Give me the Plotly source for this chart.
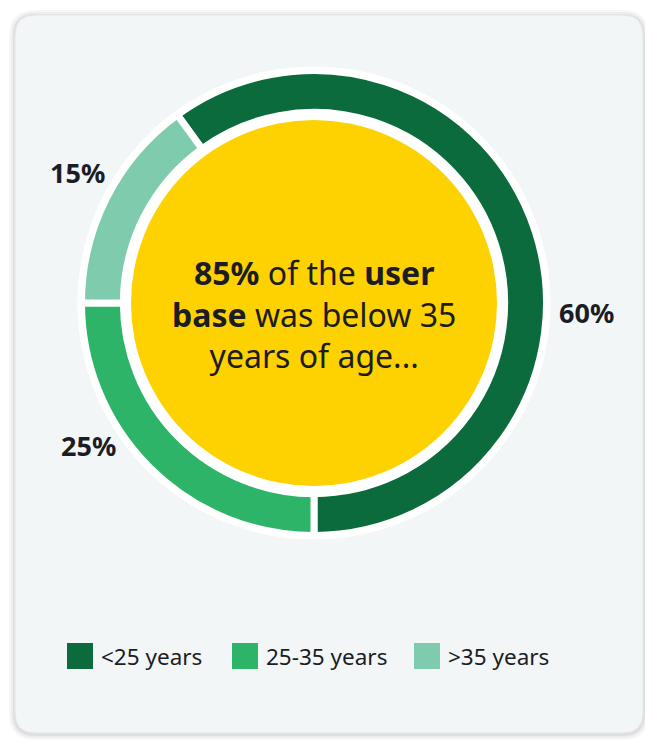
import plotly.graph_objects as go

# data
age_groups = ['<25 years', '25-35 years', '>35 years']
share = [60, 25, 15]
colors = ['#0b6b3c', '#2db469', '#7fcbad']
center_text = ('<b>85%</b> of the <b>user</b><br>'
               '<b>base</b> was below 35<br>'
               'years of age...')

W, H = 653, 742
PAD = 8  # default body margin of the page
cx, cy, R = 314, 303, 232.5
FONT = 'Noto Sans'
INK = '#1c1c24'
fw, fh = W - PAD, H - PAD

fig = go.Figure()

fig.add_trace(go.Pie(
    labels=age_groups, values=share, sort=False, direction='clockwise',
    rotation=-36, hole=0.82, textinfo='none', hoverinfo='label+percent',
    marker=dict(colors=colors, line=dict(color='white', width=7)),
    domain=dict(x=[(cx - R - PAD) / fw, (cx + R - PAD) / fw],
                y=[1 - (cy + R - PAD) / fh, 1 - (cy - R - PAD) / fh]),
    showlegend=False,
))


# card with soft shadow
def rounded(x0, y0, x1, y1, r):
    return (f'M{x0 + r},{y0} L{x1 - r},{y0} Q{x1},{y0} {x1},{y0 + r} '
            f'L{x1},{y1 - r} Q{x1},{y1} {x1 - r},{y1} L{x0 + r},{y1} '
            f'Q{x0},{y1} {x0},{y1 - r} L{x0},{y0 + r} Q{x0},{y0} {x0 + r},{y0} Z')


for k, a in [(6, 0.03), (4, 0.04), (2, 0.06)]:
    fig.add_shape(type='path', path=rounded(15 - k, 15 - k + 1, 643 + k, 733 + k + 1, 20 + k),
                  xref='x', yref='y', fillcolor=f'rgba(0,0,0,{a})', line_width=0, layer='below')
fig.add_shape(type='path', path=rounded(15, 15, 643, 733, 20), xref='x', yref='y',
              fillcolor='#f2f6f7', line=dict(color='#e2e6e8', width=1), layer='below')

# white backing behind the ring, yellow centre disc
fig.add_shape(type='circle', xref='x', yref='y', x0=cx - R - 4, x1=cx + R + 4,
              y0=cy - R - 4, y1=cy + R + 4, fillcolor='white', line_width=0, layer='below')
fig.add_shape(type='circle', xref='x', yref='y', x0=cx - 183, x1=cx + 183,
              y0=cy - 183, y1=cy + 183, fillcolor='#fdd200', line_width=0, layer='above')

fig.add_annotation(x=cx, y=314, xref='x', yref='y', text=center_text, showarrow=False,
                   font=dict(family=FONT, size=32, color=INK), align='center')

# percentage labels
label_pos = [(586, 312), (88, 445), (77, 172)]
for v, (lx, ly) in zip(share, label_pos):
    fig.add_annotation(x=lx, y=ly, xref='x', yref='y', text=f'<b>{v}%</b>', showarrow=False,
                       font=dict(family=FONT, size=27, color=INK))

# legend
legend_x = [67, 232, 414]
for name, c, lx in zip(age_groups, colors, legend_x):
    fig.add_shape(type='rect', xref='x', yref='y', x0=lx, x1=lx + 26, y0=643, y1=669,
                  fillcolor=c, line_width=0)
    fig.add_annotation(x=lx + 32, y=656, xref='x', yref='y', text=name, showarrow=False,
                       xanchor='left', font=dict(family=FONT, size=22.5, color=INK))

fig.update_xaxes(range=[PAD, W], visible=False, fixedrange=True)
fig.update_yaxes(range=[H, PAD], visible=False, fixedrange=True)
fig.update_layout(width=fw, height=fh, margin=dict(l=0, r=0, t=0, b=0),
                  paper_bgcolor='white', plot_bgcolor='rgba(0,0,0,0)')

fig.write_html('out.html')
